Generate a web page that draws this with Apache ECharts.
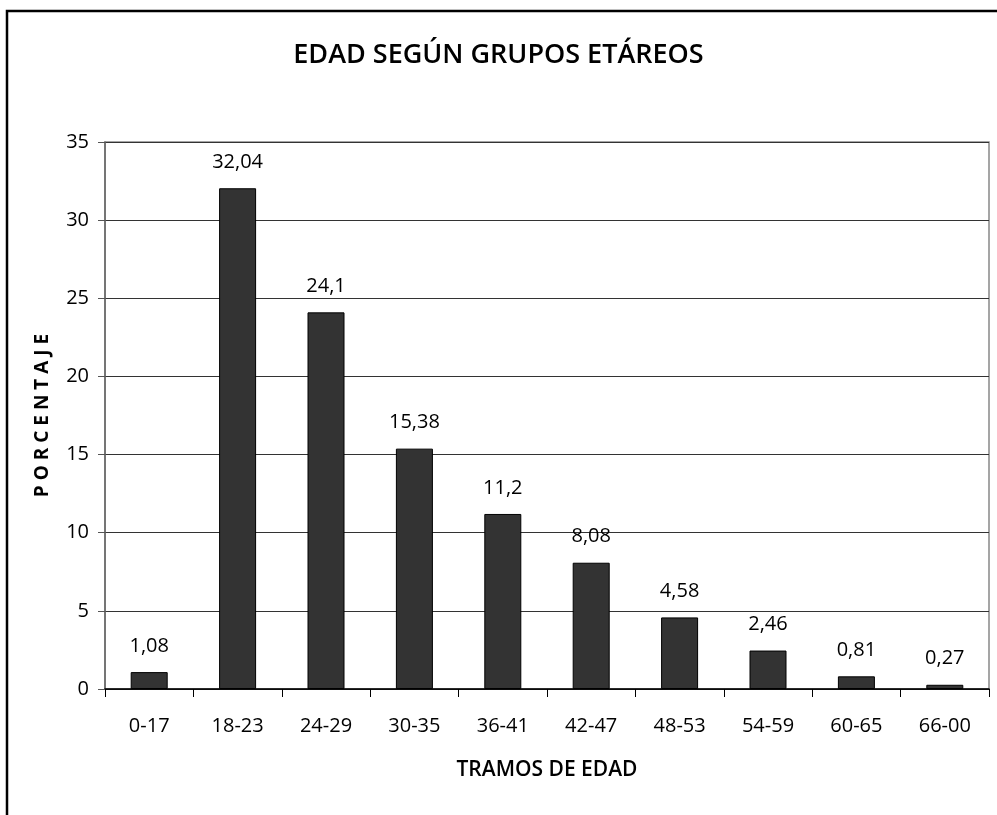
<!DOCTYPE html>
<html>
<head>
<meta charset="utf-8">
<script src="https://cdn.jsdelivr.net/npm/echarts@6/dist/echarts.min.js"></script>
<style>
html,body{margin:0;padding:0;background:#fff;}
#chart{width:997px;height:815px;}
</style>
</head>
<body>
<div id="chart"></div>
<script>
const categories = ['0-17','18-23','24-29','30-35','36-41','42-47','48-53','54-59','60-65','66-00'];
const values = [1.08, 32.04, 24.1, 15.38, 11.2, 8.08, 4.58, 2.46, 0.81, 0.27];
const yTicks = {min: 0, max: 35, interval: 5};
const titleText = 'EDAD SEGÚN GRUPOS ETÁREOS';
const xName = 'TRAMOS DE EDAD';
const yName = 'P O R C E N T A J E';

const chart = echarts.init(document.getElementById('chart'), null, {renderer: 'canvas'});
const font = '"Open Sans", "Noto Sans", sans-serif';
chart.setOption({
  animation: false,
  backgroundColor: '#fff',
  title: {
    text: titleText,
    left: 'center',
    top: 37,
    textStyle: {fontFamily: font, fontSize: 27, fontWeight: 600, color: '#000'}
  },
  graphic: [{
    type: 'rect',
    shape: {x: 7, y: 11, width: 1200, height: 1200},
    style: {fill: 'none', stroke: '#000', lineWidth: 2.5},
    silent: true
  }],
  grid: {left: 105, right: 8, top: 142, bottom: 126, show: true, borderColor: '#888', borderWidth: 1.5, containLabel: false},
  xAxis: {
    type: 'category',
    data: categories,
    name: xName,
    nameLocation: 'middle',
    nameGap: 71,
    nameTextStyle: {fontFamily: font, fontSize: 21, fontWeight: 600, color: '#000'},
    axisLine: {lineStyle: {color: '#000', width: 1.5}},
    axisTick: {show: true, alignWithLabel: false, length: 8, lineStyle: {color: '#000'}},
    axisLabel: {fontFamily: font, fontSize: 20, color: '#000', margin: 27},
    splitLine: {show: false}
  },
  yAxis: {
    type: 'value',
    min: yTicks.min, max: yTicks.max, interval: yTicks.interval,
    name: yName,
    nameLocation: 'middle',
    nameGap: 53,
    nameTextStyle: {fontFamily: font, fontSize: 19, fontWeight: 'bold', color: '#000'},
    axisLine: {show: true, lineStyle: {color: '#666', width: 1.5}},
    axisTick: {show: true, length: 7, lineStyle: {color: '#555'}},
    axisLabel: {fontFamily: font, fontSize: 20, color: '#000', margin: 16},
    splitLine: {show: true, lineStyle: {color: '#333', width: 1}}
  },
  series: [{
    type: 'bar',
    data: values,
    barWidth: 37,
    itemStyle: {color: '#333333', borderColor: '#000', borderWidth: 1},
    label: {
      show: true, position: 'top', distance: 16,
      fontFamily: font, fontSize: 20, color: '#000',
      formatter: p => String(p.value).replace('.', ',')
    }
  }]
});
</script>
</body>
</html>
